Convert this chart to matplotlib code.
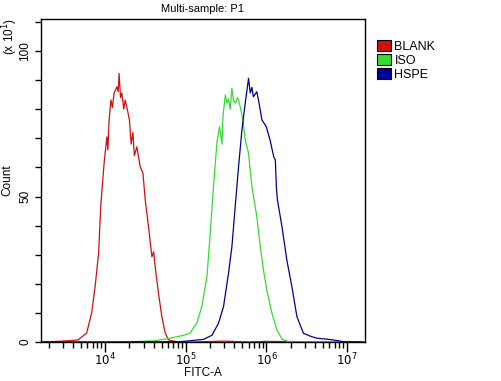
import numpy as np
import matplotlib
matplotlib.use("Agg")
import matplotlib.pyplot as plt
from matplotlib.patches import Patch
from matplotlib.ticker import LogLocator, MultipleLocator, FixedFormatter, FixedLocator, NullFormatter

plt.rcParams['font.family'] = ['Liberation Sans', 'DejaVu Sans']

# FITC-A values and counts (x 10^1)
blank_x = [1.6e3, 3.0e3, 4.6e3, 5.9e3, 6.8e3, 7.5e3, 8.3e3, 8.8e3, 9.7e3, 1.05e4, 1.08e4, 1.12e4,
           1.18e4, 1.23e4, 1.29e4, 1.40e4, 1.45e4, 1.49e4, 1.55e4, 1.61e4, 1.70e4, 1.77e4, 1.89e4,
           2.0e4, 2.1e4, 2.21e4, 2.3e4, 2.47e4, 2.72e4, 2.94e4, 3.14e4, 3.45e4, 3.80e4, 4.0e4,
           4.17e4, 4.58e4, 5.05e4, 5.55e4, 6.1e4, 8.0e4, 1.2e5, 3.0e5, 6.0e5, 1.0e6, 1.6e7]
blank_y = [0.0, 0.3, 0.7, 3.1, 10.0, 19.0, 30.6, 46.5, 61.5, 70.5, 66.0, 76.3,
           83.2, 80.5, 85.6, 87.7, 86.0, 92.3, 84.0, 85.6, 80.0, 83.2, 79.7,
           76.3, 68.0, 72.0, 64.0, 67.1, 60.2, 58.1, 48.8, 39.6, 29.3, 31.0,
           25.9, 16.8, 8.7, 3.1, 0.7, 0.0, 0.0, 0.3, 0.0, 0.2, 0.0]

iso_x = [1.77e4, 4.0e4, 6.4e4, 9.4e4, 1.13e5, 1.37e5, 1.58e5, 1.83e5, 2.01e5, 2.21e5, 2.43e5,
         2.62e5, 2.81e5, 2.89e5, 3.09e5, 3.24e5, 3.39e5, 3.55e5, 3.73e5, 3.9e5, 4.10e5, 4.4e5,
         4.73e5, 5.11e5, 5.46e5, 6.0e5, 6.6e5, 7.6e5, 8.4e5, 9.2e5, 1.01e6, 1.17e6, 1.35e6,
         1.56e6, 1.88e6, 1.6e7]
iso_y = [0.0, 0.4, 1.3, 2.3, 3.1, 6.5, 12.2, 22.5, 37.5, 53.6, 68.4,
         74.0, 68.0, 77.4, 84.9, 82.1, 83.5, 80.0, 87.2, 83.0, 82.1, 84.0,
         80.9, 76.3, 69.4, 64.9, 53.4, 43.1, 32.7, 24.7, 17.9, 9.9, 4.1,
         1.0, 0.1, 0.0]

hspe_x = [1.6e3, 8.5e4, 1.66e5, 2.11e5, 2.55e5, 2.94e5, 3.39e5, 3.73e5, 4.10e5, 4.51e5, 4.97e5,
          5.46e5, 6.0e5, 6.3e5, 6.6e5, 6.9e5, 7.6e5, 8.1e5, 8.8e5, 9.95e5, 1.11e6, 1.23e6,
          1.29e6, 1.33e6, 1.37e6, 1.56e6, 1.79e6, 2.07e6, 2.39e6, 2.88e6, 3.5e6, 4.24e6,
          5.5e6, 6.8e6, 9.1e6, 1.6e7]
hspe_y = [0.0, 0.1, 0.9, 2.3, 6.5, 12.2, 23.7, 32.7, 46.5, 60.2, 72.9,
          82.1, 90.6, 85.6, 87.5, 84.3, 86.0, 82.1, 76.3, 74.0, 69.4, 63.7,
          62.5, 53.0, 48.8, 39.6, 28.2, 19.0, 8.7, 3.0, 2.0, 1.3,
          1.0, 0.7, 0.1, 0.0]

labels = ['BLANK', 'ISO', 'HSPE']
colors = ['#cc1111', '#33dd33', '#000099']

fig = plt.figure(figsize=(5.02, 3.81), dpi=100)
ax = fig.add_axes([41/502, 39/381, 324/502, 323/381])

for xs, ys, c in zip([blank_x, iso_x, hspe_x], [blank_y, iso_y, hspe_y], colors):
    ax.plot(xs, ys, color=c, lw=0.9)

ax.set_xscale('log')
ax.set_xlim(1.6e3, 1.67e7)
ax.set_ylim(0, 111)

ax.xaxis.set_major_locator(FixedLocator([1e4, 1e5, 1e6, 1e7]))
ax.xaxis.set_major_formatter(FixedFormatter(['$10^{4}$', '$10^{5}$', '$10^{6}$', '$10^{7}$']))
ax.xaxis.set_minor_locator(LogLocator(base=10, subs=np.arange(2, 10)))
ax.xaxis.set_minor_formatter(NullFormatter())
ax.yaxis.set_major_locator(MultipleLocator(50))
ax.yaxis.set_minor_locator(MultipleLocator(10))

ax.tick_params(axis='x', which='major', direction='out', length=7, width=1, labelsize=8.5, pad=0)
ax.tick_params(axis='x', which='minor', direction='out', length=4, width=1)
ax.tick_params(axis='y', which='both', direction='out', length=4, width=1, labelsize=8.5, pad=3)
for lab in ax.get_yticklabels():
    lab.set_rotation(90)
    lab.set_va('center')

for s in ax.spines.values():
    s.set_linewidth(1)

ax.set_title('Multi-sample: P1', fontsize=8, pad=5)
fig.text(203/502, 1 - 379/381, 'FITC-A', fontsize=8.5, ha='center', va='bottom')
ax.set_ylabel('Count', fontsize=8.5, labelpad=4)
fig.text(10/502, 1 - 36/381, '(x 10$^{1}$)', rotation=90, fontsize=8.5, ha='center', va='center')

handles = [Patch(facecolor=c, edgecolor='black', lw=0.8) for c in colors]
fig.legend(handles, labels, loc='upper left', bbox_to_anchor=(372/502, 1 - 35/381),
           frameon=False, fontsize=9, handlelength=1.1, handleheight=1.0,
           handletextpad=0.3, labelspacing=0.1, borderaxespad=0)

fig.savefig('out.png', dpi=100)
